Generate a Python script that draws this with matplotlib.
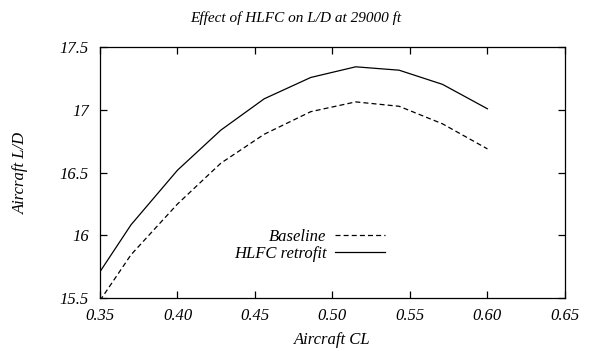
import matplotlib.pyplot as plt

cl = [0.35, 0.37, 0.40, 0.428, 0.456, 0.486, 0.515, 0.543, 0.571, 0.60]
baseline = [15.48, 15.845, 16.25, 16.576, 16.807, 16.987, 17.065, 17.03, 16.89, 16.69]
hlfc = [15.71, 16.084, 16.52, 16.84, 17.09, 17.26, 17.345, 17.318, 17.205, 17.01]

plt.rcParams['font.family'] = 'Liberation Serif'
plt.rcParams['font.style'] = 'italic'
plt.rcParams['font.size'] = 12

fig = plt.figure(figsize=(5.9, 3.51), dpi=100)
ax = fig.add_axes([0.1695, 0.151, 0.788, 0.714])

ax.plot(cl, baseline, color='black', lw=0.9, ls=(0, (4, 2.5)), label='Baseline')
ax.plot(cl, hlfc, color='black', lw=0.9, label='HLFC retrofit')

ax.set_xlim(0.35, 0.65)
ax.set_ylim(15.5, 17.5)
ax.set_xticks([0.35, 0.40, 0.45, 0.50, 0.55, 0.60, 0.65])
ax.set_xticklabels(['0.35', '0.40', '0.45', '0.50', '0.55', '0.60', '0.65'])
ax.set_yticks([15.5, 16, 16.5, 17, 17.5])
ax.set_yticklabels(['15.5', '16', '16.5', '17', '17.5'])
ax.tick_params(direction='in', length=5, width=0.9, top=True, right=True)
ax.tick_params(axis='x', pad=7)
ax.tick_params(axis='y', pad=8)
for s in ax.spines.values():
    s.set_linewidth(0.9)

ax.set_xlabel('Aircraft CL', labelpad=6)
ax.set_ylabel('Aircraft L/D', labelpad=22)
ax.set_title('Effect of HLFC on L/D at 29000 ft', fontsize=11, pad=18, x=0.42)

ax.legend(loc='center', bbox_to_anchor=(0.45, 0.21), frameon=False, markerfirst=False,
          handlelength=3.0, labelspacing=0.1, handletextpad=0.5)

fig.savefig('out.png', dpi=100)
